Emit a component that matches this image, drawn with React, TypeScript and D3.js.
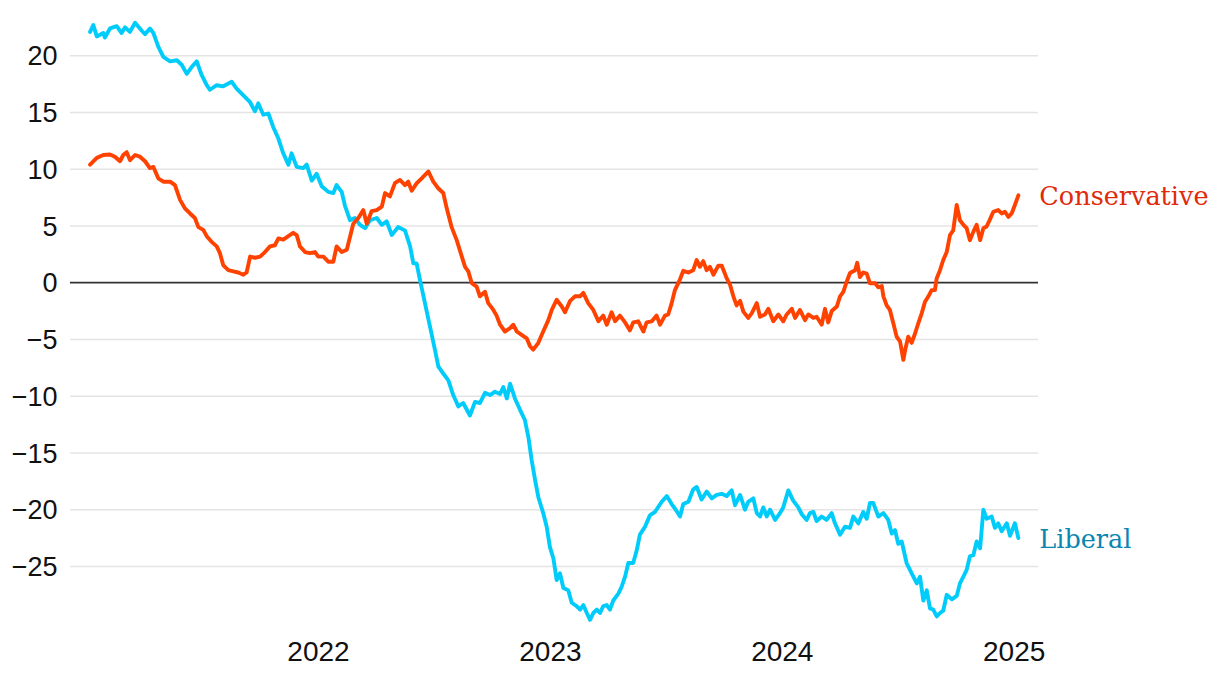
import React from "react";
import * as d3 from "d3";

const yTicks = [-25, -20, -15, -10, -5, 0, 5, 10, 15, 20];
const xTicks = [2022, 2023, 2024, 2025];

const conservative: [number, number][] = [
  [2021.015,10.4],[2021.044,11.0],[2021.072,11.25],[2021.101,11.3],[2021.122,11.1],[2021.144,10.7],[2021.158,11.25],[2021.173,11.5],[2021.187,10.8],[2021.209,11.25],[2021.230,11.1],[2021.252,10.7],[2021.273,10.1],[2021.288,10.2],[2021.309,9.2],[2021.331,8.9],[2021.360,8.9],[2021.381,8.6],[2021.403,7.3],[2021.424,6.55],[2021.446,6.1],[2021.467,5.7],[2021.482,4.9],[2021.503,4.65],[2021.518,4.1],[2021.539,3.6],[2021.561,3.2],[2021.575,2.6],[2021.589,1.55],[2021.611,1.1],[2021.633,1.0],[2021.654,0.9],[2021.676,0.7],[2021.690,0.9],[2021.705,2.3],[2021.726,2.2],[2021.748,2.3],[2021.769,2.7],[2021.791,3.2],[2021.812,3.3],[2021.827,3.9],[2021.848,3.8],[2021.870,4.1],[2021.891,4.4],[2021.906,4.2],[2021.920,3.2],[2021.942,2.7],[2021.963,2.6],[2021.985,2.7],[2021.999,2.3],[2022.021,2.3],[2022.042,1.85],[2022.064,1.85],[2022.078,3.2],[2022.100,2.7],[2022.122,2.9],[2022.136,4.05],[2022.150,5.2],[2022.172,5.7],[2022.193,6.4],[2022.208,5.2],[2022.229,6.3],[2022.251,6.4],[2022.273,6.7],[2022.287,7.9],[2022.308,7.6],[2022.330,8.8],[2022.351,9.05],[2022.373,8.6],[2022.387,8.9],[2022.402,8.1],[2022.423,8.75],[2022.445,9.2],[2022.474,9.8],[2022.495,8.9],[2022.517,8.3],[2022.538,7.9],[2022.553,6.55],[2022.574,4.9],[2022.596,3.75],[2022.618,2.3],[2022.632,1.4],[2022.646,1.0],[2022.661,-0.05],[2022.682,-0.35],[2022.696,-1.2],[2022.718,-0.8],[2022.732,-1.8],[2022.754,-2.4],[2022.768,-2.9],[2022.783,-3.7],[2022.804,-4.3],[2022.826,-4.0],[2022.840,-3.7],[2022.855,-4.3],[2022.876,-4.6],[2022.898,-4.9],[2022.912,-5.6],[2022.926,-5.9],[2022.948,-5.3],[2022.969,-4.3],[2022.991,-3.3],[2023.006,-2.4],[2023.027,-1.5],[2023.049,-2.1],[2023.063,-2.6],[2023.085,-1.6],[2023.106,-1.2],[2023.128,-1.2],[2023.142,-0.9],[2023.163,-1.8],[2023.185,-2.4],[2023.207,-3.4],[2023.228,-2.9],[2023.243,-3.7],[2023.264,-2.6],[2023.279,-3.4],[2023.300,-2.9],[2023.322,-3.5],[2023.343,-4.2],[2023.357,-3.5],[2023.379,-3.4],[2023.401,-4.3],[2023.415,-3.5],[2023.437,-3.4],[2023.458,-2.9],[2023.473,-3.7],[2023.494,-2.9],[2023.508,-2.8],[2023.523,-1.8],[2023.537,-0.65],[2023.559,0.3],[2023.573,1.05],[2023.595,0.9],[2023.616,1.1],[2023.631,2.0],[2023.645,1.4],[2023.659,1.9],[2023.674,1.1],[2023.688,1.4],[2023.703,0.7],[2023.724,1.5],[2023.739,1.5],[2023.760,0.4],[2023.775,-0.2],[2023.789,-1.2],[2023.803,-2.0],[2023.818,-1.6],[2023.832,-2.55],[2023.853,-3.1],[2023.868,-2.7],[2023.890,-1.8],[2023.904,-3.0],[2023.925,-2.8],[2023.940,-2.3],[2023.961,-3.4],[2023.983,-2.8],[2024.004,-3.4],[2024.019,-2.8],[2024.041,-2.3],[2024.055,-3.1],[2024.076,-2.4],[2024.098,-3.3],[2024.112,-2.8],[2024.134,-3.1],[2024.148,-3.0],[2024.170,-3.7],[2024.184,-2.3],[2024.198,-3.5],[2024.213,-2.5],[2024.235,-2.1],[2024.249,-1.2],[2024.263,-0.8],[2024.278,0.1],[2024.292,0.85],[2024.314,1.1],[2024.323,1.75],[2024.335,0.5],[2024.349,0.9],[2024.364,0.8],[2024.378,-0.05],[2024.400,-0.05],[2024.414,-0.4],[2024.429,-0.3],[2024.436,-1.2],[2024.450,-2.0],[2024.464,-2.4],[2024.479,-3.6],[2024.493,-4.75],[2024.508,-5.2],[2024.522,-6.8],[2024.529,-6.0],[2024.543,-4.75],[2024.558,-5.3],[2024.572,-4.5],[2024.586,-3.6],[2024.601,-2.7],[2024.615,-1.7],[2024.630,-1.2],[2024.644,-0.65],[2024.658,-0.65],[2024.666,0.4],[2024.680,1.1],[2024.694,2.0],[2024.709,2.7],[2024.723,4.2],[2024.737,4.6],[2024.745,5.8],[2024.752,6.85],[2024.766,5.5],[2024.781,5.1],[2024.795,4.8],[2024.809,3.75],[2024.824,4.5],[2024.838,5.1],[2024.853,3.75],[2024.867,4.8],[2024.881,4.95],[2024.896,5.6],[2024.910,6.25],[2024.931,6.4],[2024.946,6.1],[2024.960,6.25],[2024.975,5.8],[2024.989,6.1],[2025.003,6.85],[2025.018,7.7]
];

const liberal: [number, number][] = [
  [2021.015,22.1],[2021.029,22.7],[2021.044,21.7],[2021.072,22.0],[2021.079,21.6],[2021.101,22.4],[2021.130,22.6],[2021.151,22.0],[2021.166,22.5],[2021.187,22.1],[2021.209,22.9],[2021.238,22.2],[2021.252,21.9],[2021.273,22.4],[2021.288,22.0],[2021.309,20.8],[2021.331,19.9],[2021.360,19.5],[2021.389,19.6],[2021.410,19.2],[2021.432,18.4],[2021.453,19.0],[2021.475,19.5],[2021.496,18.3],[2021.518,17.4],[2021.532,17.0],[2021.561,17.4],[2021.589,17.3],[2021.626,17.7],[2021.647,17.1],[2021.676,16.5],[2021.705,15.9],[2021.726,15.1],[2021.740,15.8],[2021.762,14.8],[2021.784,14.9],[2021.805,13.7],[2021.827,12.7],[2021.848,11.4],[2021.870,10.4],[2021.884,11.4],[2021.906,10.2],[2021.934,10.1],[2021.949,10.4],[2021.971,9.0],[2021.992,9.6],[2022.014,8.5],[2022.042,8.0],[2022.064,7.9],[2022.078,8.6],[2022.100,8.0],[2022.114,6.8],[2022.136,5.5],[2022.157,5.7],[2022.179,5.1],[2022.201,4.8],[2022.222,5.5],[2022.251,5.7],[2022.273,5.1],[2022.294,5.4],[2022.316,4.2],[2022.343,4.9],[2022.373,4.6],[2022.395,3.2],[2022.409,1.7],[2022.423,1.7],[2022.438,0.2],[2022.459,-1.8],[2022.481,-3.9],[2022.502,-5.9],[2022.517,-7.4],[2022.538,-8.0],[2022.560,-8.6],[2022.581,-9.9],[2022.603,-10.9],[2022.624,-10.6],[2022.653,-11.7],[2022.675,-10.5],[2022.696,-10.6],[2022.718,-9.7],[2022.740,-9.9],[2022.761,-9.6],[2022.783,-9.8],[2022.797,-9.2],[2022.812,-10.2],[2022.826,-8.9],[2022.847,-10.2],[2022.869,-11.2],[2022.890,-12.1],[2022.905,-13.6],[2022.919,-15.6],[2022.934,-17.4],[2022.948,-18.9],[2022.969,-20.3],[2022.984,-21.5],[2022.998,-23.3],[2023.013,-24.3],[2023.027,-26.2],[2023.041,-25.6],[2023.056,-26.9],[2023.077,-27.1],[2023.092,-28.2],[2023.113,-28.5],[2023.128,-28.8],[2023.142,-28.4],[2023.157,-29.1],[2023.171,-29.7],[2023.185,-29.1],[2023.200,-28.8],[2023.214,-29.1],[2023.228,-28.5],[2023.243,-28.4],[2023.257,-28.8],[2023.271,-28.0],[2023.293,-27.4],[2023.307,-26.8],[2023.322,-25.9],[2023.336,-24.7],[2023.357,-24.7],[2023.372,-23.6],[2023.386,-22.2],[2023.408,-21.5],[2023.429,-20.5],[2023.451,-20.2],[2023.480,-19.3],[2023.502,-18.8],[2023.523,-19.5],[2023.537,-19.9],[2023.559,-20.6],[2023.573,-19.5],[2023.595,-19.3],[2023.616,-18.2],[2023.631,-18.0],[2023.652,-19.1],[2023.674,-18.4],[2023.696,-19.0],[2023.717,-18.7],[2023.739,-18.6],[2023.760,-18.8],[2023.782,-18.3],[2023.796,-19.6],[2023.818,-18.7],[2023.839,-20.0],[2023.853,-19.3],[2023.875,-19.0],[2023.890,-20.3],[2023.904,-20.6],[2023.918,-19.8],[2023.933,-20.6],[2023.947,-20.0],[2023.969,-20.9],[2023.990,-20.3],[2024.004,-19.8],[2024.026,-18.3],[2024.047,-19.2],[2024.069,-19.8],[2024.084,-20.4],[2024.105,-20.9],[2024.119,-20.3],[2024.134,-20.2],[2024.148,-21.0],[2024.170,-20.6],[2024.191,-20.9],[2024.213,-20.3],[2024.227,-21.2],[2024.249,-22.2],[2024.270,-21.5],[2024.292,-21.6],[2024.306,-20.6],[2024.328,-21.2],[2024.349,-20.2],[2024.364,-20.8],[2024.378,-19.4],[2024.392,-19.4],[2024.414,-20.6],[2024.436,-20.3],[2024.457,-20.9],[2024.472,-22.1],[2024.486,-21.8],[2024.500,-23.0],[2024.515,-22.8],[2024.536,-24.7],[2024.558,-25.6],[2024.580,-26.5],[2024.594,-25.9],[2024.608,-28.0],[2024.623,-27.1],[2024.637,-28.7],[2024.651,-28.8],[2024.666,-29.4],[2024.680,-29.1],[2024.694,-28.9],[2024.709,-27.5],[2024.731,-27.9],[2024.752,-27.6],[2024.766,-26.5],[2024.781,-25.9],[2024.795,-25.3],[2024.809,-24.1],[2024.824,-24.0],[2024.838,-22.8],[2024.853,-23.4],[2024.867,-20.0],[2024.881,-20.8],[2024.903,-20.6],[2024.917,-21.6],[2024.931,-21.2],[2024.946,-21.9],[2024.968,-21.2],[2024.982,-22.3],[2025.003,-21.2],[2025.018,-22.5]
];

const seriesNames = ["Liberal", "Conservative"];

const W = 1220;
const H = 682;

export default function App() {
  const x = d3.scaleLinear().domain([2022, 2025]).range([318.5, 1014.2]);
  const y = d3.scaleLinear().domain([0, 20]).range([282.7, 55.7]);
  const line = d3
    .line<[number, number]>()
    .x((d) => x(d[0]))
    .y((d) => y(d[1]))
    .curve(d3.curveLinear);
  const fmt = d3.format("d");

  const series = [
    { name: seriesNames[0], data: liberal, line: "#00ccfb", label: "#0a86b0" },
    { name: seriesNames[1], data: conservative, line: "#ff4200", label: "#e02a0a" },
  ];

  return (
    <svg
      width={W}
      height={H}
      style={{ position: "absolute", left: 0, top: 0, background: "#fff" }}
    >
      <g>
        {yTicks.map((t) => (
          <line
            key={"g" + t}
            x1={70}
            x2={1038}
            y1={y(t)}
            y2={y(t)}
            stroke={t === 0 ? "#333" : "#e4e4e4"}
            strokeWidth={t === 0 ? 1.8 : 1.5}
          />
        ))}
        {yTicks.map((t) => (
          <text
            key={"t" + t}
            x={57.5}
            y={y(t) + 9.6}
            textAnchor="end"
            fontFamily="'Liberation Sans', Arial, sans-serif"
            fontSize={27}
            fill="#111"
          >
            {fmt(t)}
          </text>
        ))}
        {xTicks.map((t) => (
          <text
            key={"x" + t}
            x={x(t)}
            y={660.5}
            textAnchor="middle"
            fontFamily="'Liberation Sans', Arial, sans-serif"
            fontSize={28}
            fill="#111"
          >
            {t}
          </text>
        ))}
      </g>
      {series.map((s) => (
        <path
          key={s.name}
          d={line(s.data) || ""}
          fill="none"
          stroke={s.line}
          strokeWidth={3.9}
          strokeLinejoin="round"
          strokeLinecap="round"
        />
      ))}
      {series.map((s) => {
        const last = s.data[s.data.length - 1];
        return (
          <text
            key={"l" + s.name}
            x={x(last[0]) + 21}
            y={y(last[1]) + 9.5}
            fontFamily="'DejaVu Serif', serif"
            fontSize={25.5}
            fill={s.label}
          >
            {s.name}
          </text>
        );
      })}
    </svg>
  );
}
